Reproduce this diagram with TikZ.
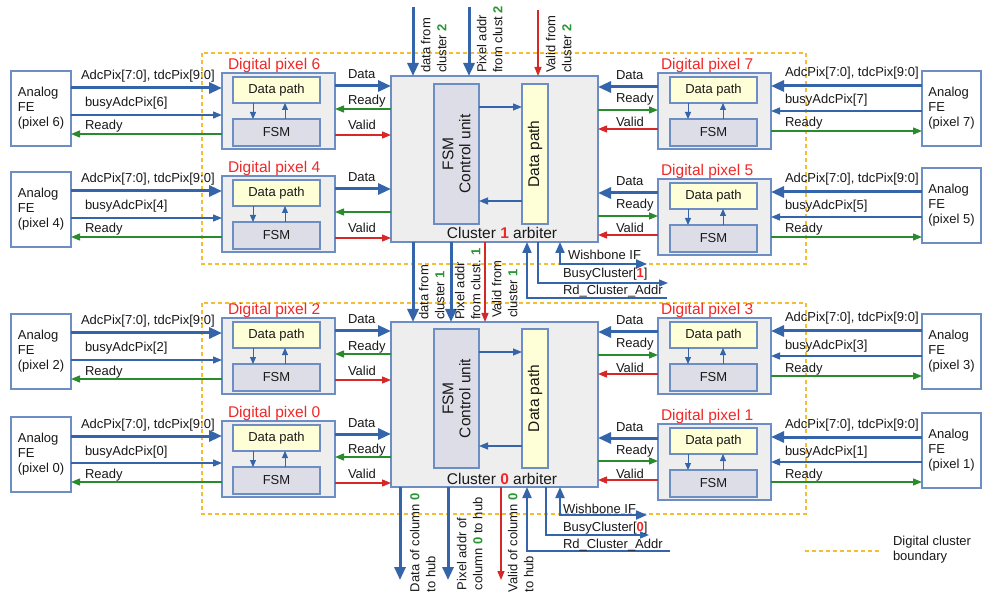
\documentclass[tikz,border=0pt]{standalone}
\usepackage{fontspec}
\setmainfont{Liberation Sans}
\usetikzlibrary{arrows.meta}
\definecolor{boxblue}{RGB}{108,142,196}
\definecolor{arrblue}{RGB}{52,101,170}
\definecolor{boxgray}{RGB}{238,238,238}
\definecolor{fsmfill}{RGB}{221,221,232}
\definecolor{dpfill}{RGB}{255,255,215}
\definecolor{sigreen}{RGB}{40,140,45}
\definecolor{sigred}{RGB}{215,40,40}
\definecolor{titlered}{RGB}{240,40,40}
\definecolor{numgreen}{RGB}{40,150,50}
\definecolor{dashyellow}{RGB}{245,190,50}
\definecolor{txt}{RGB}{25,25,25}
\newcommand{\myfnt}{\fontsize{13}{15}\selectfont}
\newcommand{\mybig}{\fontsize{15.5}{17}\selectfont}
\newcommand{\myrot}{\fontsize{13}{16}\selectfont}
\tikzset{
  base/.style={inner sep=0pt, outer sep=0pt},
  pixbox/.style={base, draw=boxblue, fill=boxgray, line width=1.3pt, minimum width=113pt, minimum height=76pt},
  dpbox/.style={base, draw=boxblue, fill=dpfill, line width=1.1pt, minimum width=87pt, minimum height=26pt, font=\myfnt, text=txt},
  fsmbox/.style={base, draw=boxblue, fill=fsmfill, line width=1.1pt, minimum width=87pt, minimum height=27pt, font=\myfnt, text=txt},
  febox/.style={base, draw=boxblue, fill=white, line width=1.3pt, minimum width=60pt, minimum height=75pt, align=left, font=\myfnt, text=txt},
  arbbox/.style={base, draw=boxblue, fill=boxgray, line width=1.3pt, minimum width=207pt},
  lbl/.style={base, font=\myfnt, text=txt},
  rlbl/.style={base, rotate=90, anchor=north west, align=left, font=\myrot, text=txt},
  ptitle/.style={base, font=\mybig, text=titlered},
  bigarrow/.style={draw=arrblue, line width=3pt, >={Triangle[length=13pt,width=11pt]}, ->},
  medarrow/.style={draw=arrblue, line width=2pt, >={Triangle[length=11pt,width=9pt]}, ->},
  wbarrow/.style={draw=arrblue, line width=2pt, >={Triangle[length=11pt,width=9pt]}, <->},
  bluearrow/.style={draw=arrblue, line width=1.3pt, >={Triangle[length=9pt,width=7pt]}, ->},
  greenarrow/.style={draw=sigreen, line width=1.3pt, >={Triangle[length=9pt,width=7pt]}, ->},
  redarrow/.style={draw=sigred, line width=1.3pt, >={Triangle[length=9pt,width=7pt]}, ->},
  innerarrow/.style={draw=arrblue, line width=1pt, >={Triangle[length=7pt,width=6pt]}, ->},
  innerarrowb/.style={draw=arrblue, line width=1.2pt, >={Triangle[length=9pt,width=7pt]}, ->},
  boundary/.style={draw=dashyellow, line width=1.1pt, dash pattern=on 4pt off 3pt},
}
% #1 number, #2 pixel top, #3 FE top, #4 ready label, #5 arbiter
\newcommand{\leftpix}[5]{%
  \node[pixbox, anchor=north west] (p#1) at (222,#2) {};
  \node[dpbox, anchor=north west] (dp#1) at (233,#2+4) {Data path};
  \node[fsmbox, anchor=north west] (fsm#1) at (233,#2+46) {FSM};
  \node[ptitle, anchor=base west] (t#1) at (228,#2-3.5) {Digital pixel #1};
  \node[febox, anchor=north west] (fe#1) at (11,#3) {Analog\\FE\\(pixel #1)};
  \draw[innerarrow] (dp#1.south -| 253,0) -- (fsm#1.north -| 253,0);
  \draw[innerarrow] (fsm#1.north -| 285,0) -- (dp#1.south -| 285,0);
  \draw[bigarrow] (fe#1.east |- 0,#2+15) -- (p#1.west |- 0,#2+15);
  \draw[bluearrow] (fe#1.east |- 0,#2+42) -- (p#1.west |- 0,#2+42);
  \draw[greenarrow] (p#1.west |- 0,#2+61) -- (fe#1.east |- 0,#2+61);
  \node[lbl, anchor=base west] (la#1) at (81,#2+7) {AdcPix[7:0], tdcPix[9:0]};
  \node[lbl, anchor=base west] (lb#1) at (85,#2+34) {busyAdcPix[#1]};
  \node[lbl, anchor=base west] (lr#1) at (85,#2+57) {Ready};
  \draw[bigarrow] (p#1.east |- 0,#2+13) -- (#5.west |- 0,#2+13);
  \draw[greenarrow] (#5.west |- 0,#2+36) -- (p#1.east |- 0,#2+36);
  \draw[redarrow] (p#1.east |- 0,#2+62) -- (#5.west |- 0,#2+62);
  \node[lbl, anchor=base west] (ld#1) at (348,#2+6) {Data};
  \node[lbl, anchor=base west] (lq#1) at (348,#2+32) {#4};
  \node[lbl, anchor=base west] (lv#1) at (348,#2+57) {Valid};
}
\newcommand{\rightpix}[5]{%
  \node[pixbox, anchor=north west] (p#1) at (658,#2) {};
  \node[dpbox, anchor=north west] (dp#1) at (670,#2+4) {Data path};
  \node[fsmbox, anchor=north west] (fsm#1) at (670,#2+46) {FSM};
  \node[ptitle, anchor=base west] (t#1) at (661,#2-3.5) {Digital pixel #1};
  \node[febox, anchor=north west, minimum width=59pt] (fe#1) at (922,#3) {Analog\\FE\\(pixel #1)};
  \draw[innerarrow] (dp#1.south -| 688,0) -- (fsm#1.north -| 688,0);
  \draw[innerarrow] (fsm#1.north -| 723,0) -- (dp#1.south -| 723,0);
  \draw[bigarrow] (fe#1.west |- 0,#2+13) -- (p#1.east |- 0,#2+13);
  \draw[bluearrow] (fe#1.west |- 0,#2+38) -- (p#1.east |- 0,#2+38);
  \draw[greenarrow] (p#1.east |- 0,#2+58) -- (fe#1.west |- 0,#2+58);
  \node[lbl, anchor=base west] (la#1) at (785,#2+4) {AdcPix[7:0], tdcPix[9:0]};
  \node[lbl, anchor=base west] (lb#1) at (785,#2+31) {busyAdcPix[#1]};
  \node[lbl, anchor=base west] (lr#1) at (785,#2+54) {Ready};
  \draw[bigarrow] (p#1.west |- 0,#2+14) -- (#5.east |- 0,#2+14);
  \draw[greenarrow] (#5.east |- 0,#2+37) -- (p#1.west |- 0,#2+37);
  \draw[redarrow] (p#1.west |- 0,#2+56) -- (#5.east |- 0,#2+56);
  \node[lbl, anchor=base west] (ld#1) at (616,#2+7) {Data};
  \node[lbl, anchor=base west] (lq#1) at (616,#2+30) {#4};
  \node[lbl, anchor=base west] (lv#1) at (616,#2+54) {Valid};
}
\begin{document}
\begin{tikzpicture}[x=1pt,y=-1pt]
\fill[white] (0,0) rectangle (982,593);
\useasboundingbox (0,0) rectangle (982,593);
% cluster boundaries
\draw[boundary] (202,53) rectangle (806,264);
\draw[boundary] (202,303) rectangle (806,514);
% cluster 1 arbiter
\node[arbbox, anchor=north west, minimum height=166pt] (arb1) at (391,76) {};
\node[fsmbox, rotate=90, minimum width=140pt, minimum height=45pt, align=center, font=\mybig] (afsm1) at (456.5,154) {FSM\\Control unit};
\node[dpbox, rotate=90, minimum width=140pt, minimum height=26pt, font=\mybig] (adp1) at (535,154) {Data path};
\draw[innerarrowb] (afsm1.south |- 0,107) -- (adp1.north |- 0,107);
\draw[innerarrowb] (adp1.north |- 0,201) -- (afsm1.south |- 0,201);
\node[lbl, font=\mybig, anchor=base] (arb1t) at (502,238.5) {Cluster {\color{titlered}\bfseries 1} arbiter};
% cluster 0 arbiter
\node[arbbox, anchor=north west, minimum height=165pt] (arb0) at (391,322) {};
\node[fsmbox, rotate=90, minimum width=139pt, minimum height=45pt, align=center, font=\mybig] (afsm0) at (456.5,398.5) {FSM\\Control unit};
\node[dpbox, rotate=90, minimum width=139pt, minimum height=26pt, font=\mybig] (adp0) at (535,398.5) {Data path};
\draw[innerarrowb] (afsm0.south |- 0,352) -- (adp0.north |- 0,352);
\draw[innerarrowb] (adp0.north |- 0,446) -- (afsm0.south |- 0,446);
\node[lbl, font=\mybig, anchor=base] (arb0t) at (502,484.5) {Cluster {\color{titlered}\bfseries 0} arbiter};
% pixels
\leftpix{6}{73}{71}{Ready}{arb1}
\leftpix{4}{176}{172}{}{arb1}
\leftpix{2}{318}{314}{Ready}{arb0}
\leftpix{0}{421}{417}{Ready}{arb0}
\rightpix{7}{73}{71}{Ready}{arb1}
\rightpix{5}{179}{168}{Ready}{arb1}
\rightpix{3}{318}{314}{Ready}{arb0}
\rightpix{1}{424}{413}{Ready}{arb0}
% inputs from cluster 2
\coordinate (top2d) at (413,7);
\coordinate (top2p) at (469,7);
\coordinate (top2v) at (538,10);
\draw[bigarrow] (top2d) -- (arb1.north -| top2d);
\draw[bigarrow] (top2p) -- (arb1.north -| top2p);
\draw[redarrow] (top2v) -- (arb1.north -| top2v);
\node[rlbl] (l2d) at (421,73) {data from\\cluster {\color{numgreen}\bfseries 2}};
\node[rlbl] (l2p) at (477,73) {Pixel addr\\from clust {\color{numgreen}\bfseries 2}};
\node[rlbl] (l2v) at (546,73) {Valid from\\cluster {\color{numgreen}\bfseries 2}};
% cluster 1 to cluster 0
\draw[bigarrow] (arb1.south -| 413,0) -- (arb0.north -| 413,0);
\draw[bigarrow] (arb1.south -| 451,0) -- (arb0.north -| 451,0);
\draw[redarrow] (arb1.south -| 485,0) -- (arb0.north -| 485,0);
\node[rlbl] (l1d) at (419,320) {data from\\cluster {\color{numgreen}\bfseries 1}};
\node[rlbl] (l1p) at (455,320) {Pixel addr\\from clust. {\color{numgreen}\bfseries 1}};
\node[rlbl] (l1v) at (492,318) {Valid from\\cluster {\color{numgreen}\bfseries 1}};
% cluster 1 bus interface
\coordinate (wb1) at (647,264);
\coordinate (bc1) at (668,283);
\coordinate (rd1) at (667,298);
\draw[wbarrow] (arb1.south -| 560,0) |- (wb1);
\draw[bluearrow] (arb1.south -| 538,0) |- (bc1);
\draw[medarrow] (rd1) -| (arb1.south -| 527,0);
\node[lbl, anchor=base west] (wb1l) at (568,260) {Wishbone IF};
\node[lbl, anchor=base west] (bc1l) at (563,278) {BusyCluster[{\color{titlered}\bfseries 1}]};
\node[lbl, anchor=base west] (rd1l) at (563,295) {Rd\_Cluster\_Addr};
% cluster 0 outputs to hub
\coordinate (out0d) at (400,580);
\coordinate (out0p) at (448,580);
\coordinate (out0v) at (501,580);
\draw[bigarrow] (arb0.south -| out0d) -- (out0d);
\draw[bigarrow] (arb0.south -| out0p) -- (out0p);
\draw[redarrow] (arb0.south -| out0v) -- (out0v);
\node[rlbl] (l0d) at (410,592) {Data of column {\color{numgreen}\bfseries 0}\\to hub};
\node[rlbl] (l0p) at (457,590) {Pixel addr of\\column {\color{numgreen}\bfseries 0} to hub};
\node[rlbl] (l0v) at (508,592) {Valid of column {\color{numgreen}\bfseries 0}\\to hub};
% cluster 0 bus interface
\coordinate (wb0) at (647,515);
\coordinate (bc0) at (649,535);
\coordinate (rd0) at (670,551);
\draw[wbarrow] (arb0.south -| 560,0) |- (wb0);
\draw[bluearrow] (arb0.south -| 546,0) |- (bc0);
\draw[medarrow] (rd0) -| (arb0.south -| 527,0);
\node[lbl, anchor=base west] (wb0l) at (563,513) {Wishbone IF};
\node[lbl, anchor=base west] (bc0l) at (563,531) {BusyCluster[{\color{titlered}\bfseries 0}]};
\node[lbl, anchor=base west] (rd0l) at (563,548) {Rd\_Cluster\_Addr};
% legend
\coordinate (lg1) at (805,551);
\coordinate (lg2) at (880,551);
\draw[boundary] (lg1) -- (lg2);
\node[lbl, anchor=west, align=left] (lgt) at (893,550) {Digital cluster\\boundary};
\end{tikzpicture}
\end{document}
